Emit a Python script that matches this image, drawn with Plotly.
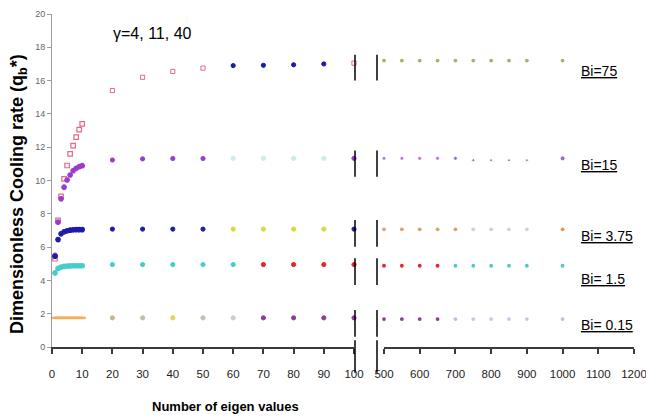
import plotly.graph_objects as go

# ---------------- data ----------------
x_dense = [1, 2, 3, 4, 5, 6, 7, 8, 9, 10]
x_coarse = [20, 30, 40, 50, 60, 70, 80, 90, 100]
x_right = [500, 550, 600, 650, 700, 750, 800, 850, 900, 1000]

bi75_dense = [5.3, 7.6, 9.05, 10.1, 10.9, 11.6, 12.1, 12.6, 13.05, 13.4]
bi75_coarse = [15.4, 16.2, 16.55, 16.75, 16.9, 16.92, 16.95, 17.0, 17.05]
bi75_right = [17.2, 17.2, 17.2, 17.2, 17.2, 17.2, 17.2, 17.2, 17.2, 17.2]

bi15_dense = [5.5, 7.5, 8.9, 9.6, 10.03, 10.33, 10.59, 10.73, 10.83, 10.89]
bi15_coarse = [11.23, 11.3, 11.32, 11.32, 11.33, 11.33, 11.33, 11.33, 11.33]
bi15_right = [11.33, 11.33, 11.33, 11.33, 11.33, 11.22, 11.22, 11.22, 11.22, 11.33]

bi375_dense = [5.45, 6.45, 6.8, 6.92, 6.98, 7.02, 7.04, 7.05, 7.05, 7.05]
bi375_coarse = [7.08, 7.08, 7.08, 7.08, 7.08, 7.08, 7.08, 7.08, 7.08]
bi375_right = [7.07, 7.07, 7.07, 7.07, 7.07, 7.07, 7.07, 7.07, 7.07, 7.07]

bi15b_dense = [4.45, 4.72, 4.8, 4.84, 4.86, 4.87, 4.88, 4.88, 4.88, 4.88]
bi15b_coarse = [4.95, 4.95, 4.95, 4.95, 4.95, 4.95, 4.95, 4.95, 4.95]
bi15b_right = [4.88, 4.88, 4.88, 4.88, 4.88, 4.88, 4.88, 4.88, 4.88, 4.88]

bi015_dense = [1.75, 1.75, 1.75, 1.75, 1.75, 1.75, 1.75, 1.75, 1.75, 1.75]
bi015_coarse = [1.75, 1.75, 1.75, 1.75, 1.75, 1.75, 1.75, 1.75, 1.75]
bi015_right = [1.68, 1.68, 1.68, 1.68, 1.68, 1.68, 1.68, 1.68, 1.68, 1.68]

bi_labels = ["Bi=75", "Bi=15", "Bi= 3.75", "Bi= 1.5", "Bi= 0.15"]
bi_label_y = [16.6, 10.95, 6.65, 4.1, 1.3]
break_rows = [(16.0, 17.55), (10.23, 11.8), (6.02, 7.63), (3.72, 5.33), (0.62, 2.22)]

# ---------------- styles ----------------
PINK = "#e26a86"
PURPLE = "#9a3ccc"
DBLUE = "#1c1ca8"
CYAN = "#46cccc"
RED = "#e02828"
YELLOW = "#d9d845"
LCYAN = "#c9ecec"
OLIVE = "#a4b468"
TAN = "#d4a676"
LLAV = "#d6cde2"
ORANGE = "#f2ae5c"
GRAY = "#c4bcb0"
MAG = "#8c3c96"

coarse_cols = {
    "75": [PINK, PINK, PINK, PINK, DBLUE, DBLUE, DBLUE, DBLUE, PINK],
    "15": [PURPLE, PURPLE, PURPLE, PURPLE, LCYAN, LCYAN, LCYAN, LCYAN, PURPLE],
    "375": [DBLUE, DBLUE, DBLUE, DBLUE, YELLOW, YELLOW, YELLOW, YELLOW, DBLUE],
    "15b": [CYAN, CYAN, CYAN, CYAN, CYAN, RED, RED, RED, RED],
    "015": ["#c8b494", GRAY, "#e0d45a", GRAY, "#cccccc", MAG, MAG, MAG, MAG],
}
right_cols = {
    "75": [OLIVE] * 10,
    "15": [PURPLE, PURPLE, PURPLE, PURPLE, "#6a34b0", "#3c3ca0", "#666677", "#666677", "#666677", "#6a34b0"],
    "375": [TAN, TAN, TAN, TAN, TAN, LLAV, LLAV, LLAV, LLAV, "#d89a62"],
    "15b": [RED, RED, RED, RED, CYAN, CYAN, CYAN, CYAN, CYAN, CYAN],
    "015": [MAG, MAG, MAG, MAG, "#c8b8e2", "#d0c4e6", "#d0c4e6", "#d0c4e6", "#d0c4e6", "#c8b8e2"],
}
right_sizes = {"15": [4, 4, 4, 4, 4, 3, 3, 3, 3, 5]}

fig = go.Figure()

series = [
    ("75", bi75_dense, bi75_coarse, bi75_right, PINK, "square-open"),
    ("15", bi15_dense, bi15_coarse, bi15_right, PURPLE, "circle"),
    ("375", bi375_dense, bi375_coarse, bi375_right, DBLUE, "circle"),
    ("15b", bi15b_dense, bi15b_coarse, bi15b_right, CYAN, "circle"),
    ("015", bi015_dense, bi015_coarse, bi015_right, ORANGE, "line-ew-open"),
]

for key, yd, yc, yr, dcol, dsym in series:
    fig.add_trace(go.Scatter(
        x=x_dense, y=yd, mode="markers", xaxis="x", yaxis="y", cliponaxis=False,
        marker=dict(color=dcol, size=4.5 if dsym != "line-ew-open" else 5, symbol=dsym,
                    line=dict(width=1.2 if dsym != "line-ew-open" else 2.5, color=dcol)),
        showlegend=False, hoverinfo="skip"))
    ccols = coarse_cols[key]
    csym = ["square-open" if (key == "75" and c == PINK) else "circle" for c in ccols]
    fig.add_trace(go.Scatter(
        x=x_coarse, y=yc, mode="markers", xaxis="x", yaxis="y", cliponaxis=False,
        marker=dict(color=ccols, size=4.2, symbol=csym, line=dict(width=1, color=ccols)),
        showlegend=False, hoverinfo="skip"))
    rcols = right_cols[key]
    fig.add_trace(go.Scatter(
        x=x_right, y=yr, mode="markers", xaxis="x2", yaxis="y", cliponaxis=False,
        marker=dict(color=rcols, size=right_sizes.get(key, 3.8), symbol="circle"),
        showlegend=False, hoverinfo="skip"))

# ---------------- layout ----------------
W, H = 646, 417
L, R, T, B = 52, 12, 14, 70
pw = W - L - R
ph = H - T - B
d1_end = 302 / pw
d2_start = 332 / pw

FONT = "Liberation Sans, Arial"
tickfont_x = dict(family=FONT, size=11.5, color="#222")
axis_common = dict(showline=True, linecolor="#3a3a3a", linewidth=2, ticks="outside",
                   ticklen=5, tickwidth=1.5, tickcolor="#3a3a3a", showgrid=False,
                   zeroline=False, tickfont=tickfont_x, ticklabelstandoff=10,
                   ticklabeloverflow="allow", fixedrange=True, automargin=False)

fig.update_layout(
    width=W, height=H, margin=dict(l=L, r=R, t=T, b=B, autoexpand=False),
    paper_bgcolor="white", plot_bgcolor="white",
    xaxis=dict(domain=[0, d1_end], range=[0, 100], dtick=10, anchor="y", **axis_common),
    xaxis2=dict(domain=[d2_start, 1], range=[500, 1200], dtick=100, anchor="y", **axis_common),
    yaxis=dict(range=[0, 20], dtick=2, showline=True, linecolor="#9a9a9a", linewidth=1,
               ticks="outside", ticklen=4, tickcolor="#9a9a9a", showgrid=False, zeroline=False,
               tickfont=dict(family=FONT, size=9, color="#666"), anchor="x",
               fixedrange=True, automargin=False),
)

def py(v):
    return v / 20.0

shapes = []
xb1 = d1_end + 1 / pw
xb2 = d2_start - 7 / pw
for (y0, y1) in break_rows:
    for xb in (xb1, xb2):
        shapes.append(dict(type="line", xref="paper", yref="paper", x0=xb, x1=xb,
                           y0=py(y0), y1=py(y1), line=dict(color="black", width=1.5)))
for xb in (xb1, xb2):
    shapes.append(dict(type="line", xref="paper", yref="paper", x0=xb, x1=xb,
                       y0=py(0.4), y1=py(-1.55), line=dict(color="black", width=1.5)))
fig.update_layout(shapes=shapes)

ann = []
for lab, yv in zip(bi_labels, bi_label_y):
    ann.append(dict(text="<u>" + lab + "</u>", xref="paper", yref="paper",
                    x=(579 - L) / pw, y=py(yv), xanchor="left", yanchor="middle",
                    showarrow=False, font=dict(family=FONT, size=14, color="black")))
ann.append(dict(text="γ=4, 11, 40", xref="paper", yref="paper", x=(111 - L) / pw,
                y=(H - B - 33) / ph, xanchor="left", yanchor="middle", showarrow=False,
                font=dict(family=FONT, size=16, color="black")))
ann.append(dict(text="<b>Number of eigen values</b>", xref="paper", yref="paper",
                x=(225 - L) / pw, y=(H - B - 406) / ph, xanchor="center", yanchor="middle",
                showarrow=False, font=dict(family=FONT, size=13, color="black")))
ann.append(dict(text="<b>Dimensionless Cooling rate (q<sub>b</sub>*)</b>", xref="paper", yref="paper",
                x=(18 - L) / pw, y=(H - B - 194) / ph, xanchor="center", yanchor="middle",
                textangle=-90, showarrow=False,
                font=dict(family=FONT, size=18, color="black")))
fig.update_layout(annotations=ann)

fig.write_html("out.html", config={"displayModeBar": False})
